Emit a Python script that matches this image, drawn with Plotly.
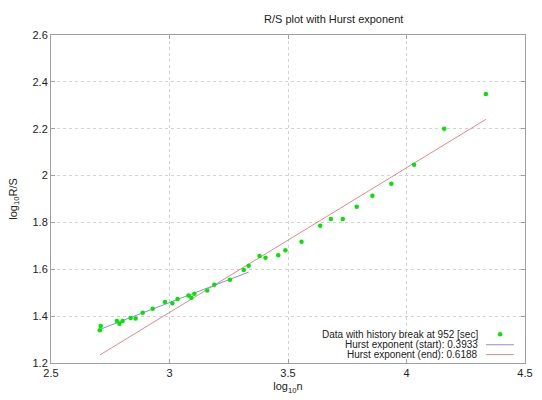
import plotly.graph_objects as go

# ---- data ----
log_n = [2.706, 2.710, 2.778, 2.789, 2.802, 2.836, 2.857, 2.887, 2.929, 2.981,
         3.012, 3.034, 3.080, 3.092, 3.105, 3.159, 3.189, 3.255, 3.313, 3.334,
         3.380, 3.405, 3.459, 3.489, 3.557, 3.636, 3.681, 3.731, 3.790, 3.856,
         3.936, 4.032, 4.159, 4.335]
log_rs = [1.340, 1.358, 1.379, 1.368, 1.379, 1.392, 1.390, 1.414, 1.432, 1.460,
          1.455, 1.473, 1.488, 1.478, 1.496, 1.509, 1.534, 1.555, 1.597, 1.615,
          1.657, 1.649, 1.660, 1.681, 1.717, 1.786, 1.815, 1.815, 1.867, 1.914,
          1.965, 2.046, 2.200, 2.348]

start_fit_x = [2.710, 3.334]
start_fit_y = [1.345, 1.588]
end_fit_x = [2.706, 4.335]
end_fit_y = [1.234, 2.240]

x_ticks = [2.5, 3, 3.5, 4, 4.5]
x_tick_text = ["2.5", "3", "3.5", "4", "4.5"]
y_ticks = [1.2, 1.4, 1.6, 1.8, 2.0, 2.2, 2.4, 2.6]
y_tick_text = ["1.2", "1.4", "1.6", "1.8", "2", "2.2", "2.4", "2.6"]

legend_labels = ["Data with history break at 952 [sec]",
                 "Hurst exponent (start): 0.3933",
                 "Hurst exponent (end): 0.6188"]

GREEN = "#00e600"
BLUE = "#8a8aee"
RED = "#e08a8a"
FONT = "Liberation Sans, Arial, sans-serif"

fig = go.Figure()
fig.add_trace(go.Scatter(x=end_fit_x, y=end_fit_y, mode="lines",
                         line=dict(color=RED, width=1), showlegend=False))
fig.add_trace(go.Scatter(x=start_fit_x, y=start_fit_y, mode="lines",
                         line=dict(color=BLUE, width=1), showlegend=False))
fig.add_trace(go.Scatter(x=log_n, y=log_rs, mode="markers",
                         marker=dict(color=GREEN, size=4.5, line=dict(width=0)),
                         showlegend=False))

axis_common = dict(showline=True, linecolor="#a0a0a0", linewidth=1, mirror="ticks",
                   ticks="inside", ticklen=4, tickcolor="#a0a0a0",
                   showgrid=True, gridcolor="#d2d2d2", griddash="dot", gridwidth=1,
                   zeroline=False, tickfont=dict(family=FONT, size=11, color="#222"))

fig.update_xaxes(range=[2.5, 4.5], tickvals=x_ticks, ticktext=x_tick_text,
                 title=dict(text="log<sub>10</sub>n", font=dict(family=FONT, size=11, color="#222"),
                            standoff=4),
                 **axis_common)
fig.update_yaxes(range=[1.2, 2.6], tickvals=y_ticks, ticktext=y_tick_text,
                 title=dict(text="log<sub>10</sub>R/S", font=dict(family=FONT, size=11, color="#222"),
                            standoff=12),
                 **axis_common)

# legend drawn gnuplot-style: right-aligned text, sample to the right
rows_y = [0.0876, 0.0556, 0.0257]
annotations = []
for lbl, yy in zip(legend_labels, rows_y):
    annotations.append(dict(x=0.906, y=yy, xref="paper", yref="paper", text=lbl,
                            showarrow=False, xanchor="right", yanchor="middle",
                            font=dict(family=FONT, size=10, color="#222")))
annotations.append(dict(x=(338 - 51) / 482, y=1.0, xref="paper", yref="paper",
                        yshift=16, text="R/S plot with Hurst exponent", showarrow=False,
                        xanchor="center", yanchor="middle",
                        font=dict(family=FONT, size=11, color="#222")))

shapes = [
    dict(type="line", xref="paper", yref="paper", x0=0.9176, x1=0.9766,
         y0=rows_y[1], y1=rows_y[1], line=dict(color=BLUE, width=1)),
    dict(type="line", xref="paper", yref="paper", x0=0.9176, x1=0.9766,
         y0=rows_y[2], y1=rows_y[2], line=dict(color=RED, width=1)),
]

fig.add_trace(go.Scatter(x=[0.9475], y=[rows_y[0]], xaxis="x2", yaxis="y2", mode="markers",
                         marker=dict(color=GREEN, size=4.5, line=dict(width=0)),
                         showlegend=False, hoverinfo="skip"))

fig.update_layout(
    width=542, height=400,
    margin=dict(l=51, r=9, t=35, b=31),
    paper_bgcolor="white", plot_bgcolor="white",
    annotations=annotations, shapes=shapes,
    xaxis2=dict(range=[0, 1], domain=[0, 1], overlaying="x", visible=False, anchor="y2"),
    yaxis2=dict(range=[0, 1], domain=[0, 1], overlaying="y", visible=False, anchor="x2"),
    showlegend=False,
)

fig.write_html("out.html")
